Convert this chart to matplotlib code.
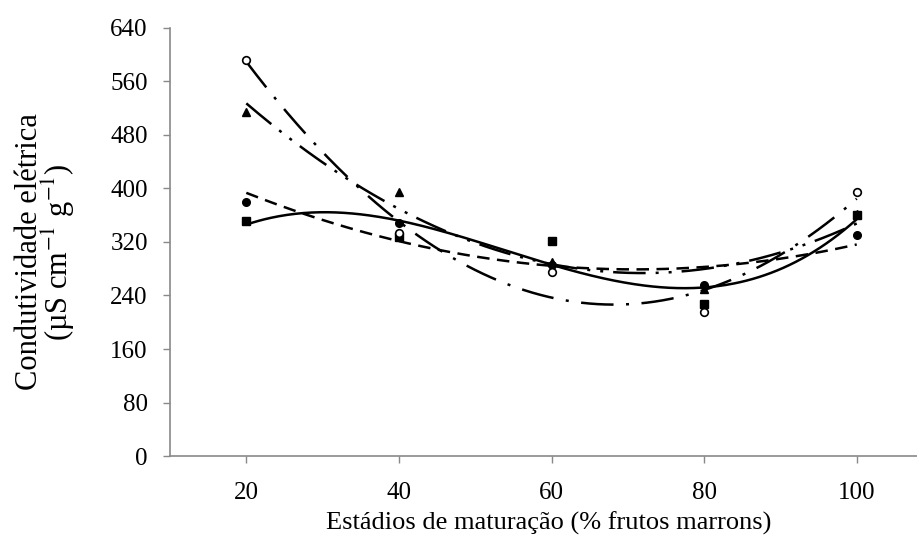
import numpy as np
import matplotlib
matplotlib.use("Agg")
import matplotlib.pyplot as plt

plt.rcParams['font.family'] = ['Liberation Serif', 'DejaVu Serif']
plt.rcParams['mathtext.fontset'] = 'stix'

stages = [20, 40, 60, 80, 100]
open_circle = [592, 333, 275, 215, 395]
triangle = [514, 395, 290, 250, 362]
filled_circle = [380, 348, 285, 255, 330]
square = [352, 328, 322, 228, 360]

yticks = [0, 80, 160, 240, 320, 400, 480, 560, 640]
xticks = [20, 40, 60, 80, 100]

fig = plt.figure(figsize=(9.17, 5.38), dpi=100)
ax = fig.add_axes([0.1854, 0.1524, 0.8146, 0.7956])

x = np.array(stages, dtype=float)
xs = np.linspace(20, 100, 300)

def fit(y, deg):
    return np.polyval(np.polyfit(x, np.array(y, dtype=float), deg), xs)

lw = 1.8
# trend lines
ax.plot(xs, fit(open_circle, 2), color='black', lw=lw, dashes=(13, 5, 1.2, 5))
ax.plot(xs, fit(triangle, 2), color='black', lw=lw, dashes=(13, 4, 1.2, 4, 1.2, 4))
ax.plot(xs, fit(filled_circle, 2), color='black', lw=lw, dashes=(5, 3))
ax.plot(xs, fit(square, 3), color='black', lw=lw, solid_capstyle='butt')

ms = 5.5
ax.plot(stages, triangle, '^', color='black', ms=ms, ls='none')
ax.plot(stages, square, 's', color='black', ms=ms, ls='none')
ax.plot(stages, filled_circle, 'o', color='black', ms=ms, ls='none')
ax.plot(stages, open_circle, 'o', mfc='white', mec='black', mew=1.2, ms=ms, ls='none')

ax.set_xlim(10, 107.9)
ax.set_ylim(0, 640)
ax.set_xticks(xticks)
ax.set_yticks(yticks)
ax.tick_params(axis='both', direction='out', length=5, color='#898989', labelsize=18, width=1)
ax.tick_params(axis='x', pad=14)
ax.tick_params(axis='y', pad=11)
for s in ['top', 'right']:
    ax.spines[s].set_visible(False)
for s in ['left', 'bottom']:
    ax.spines[s].set_color('#898989')
    ax.spines[s].set_linewidth(1.2)

ax.set_xlabel('Estádios de maturação (% frutos marrons)', fontsize=19)
ax.xaxis.set_label_coords(0.507, -0.130)
ax.set_ylabel('Condutividade elétrica\n(µS cm$^{-1}$ g$^{-1}$)', fontsize=22, linespacing=0.85)
ax.yaxis.set_label_coords(-0.124, 0.477)

fig.savefig('out.png', dpi=100)
